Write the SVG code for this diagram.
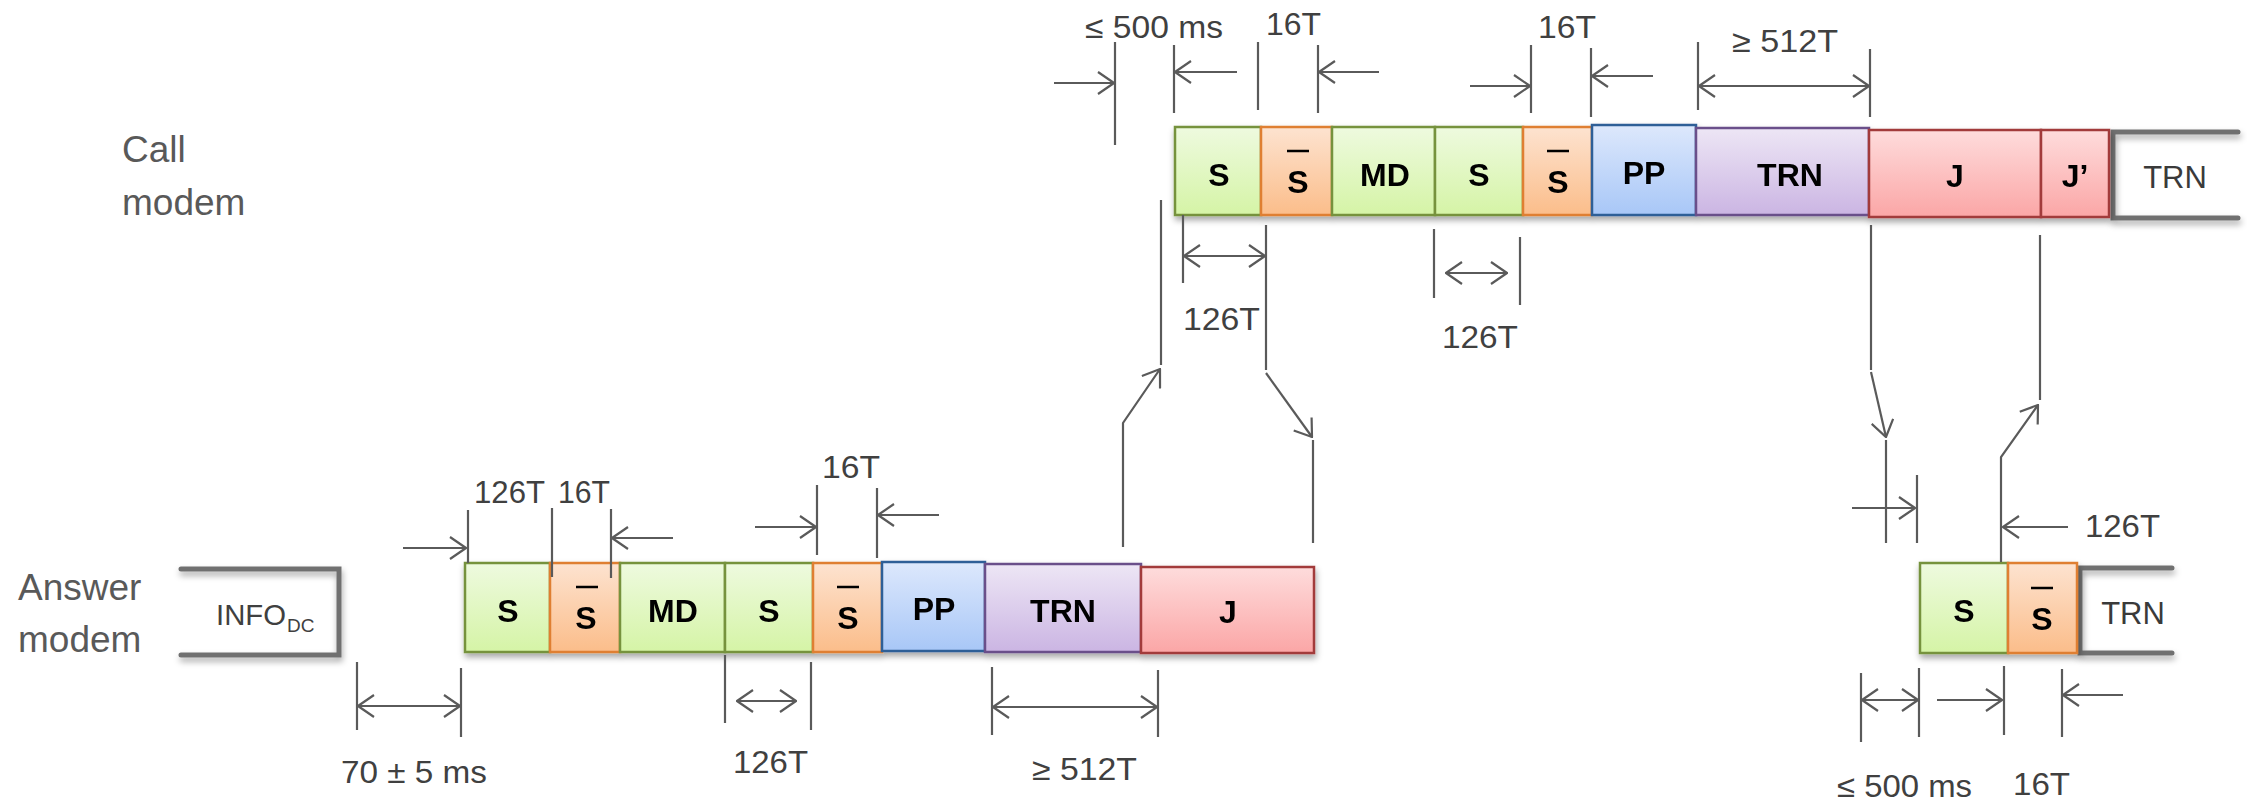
<svg xmlns="http://www.w3.org/2000/svg" width="2247" height="806" viewBox="0 0 2247 806">
<defs>
<linearGradient id="gG" x1="0" y1="0" x2="0" y2="1"><stop offset="0" stop-color="#eefadf"/><stop offset="1" stop-color="#d5f4a6"/></linearGradient>
<linearGradient id="gO" x1="0" y1="0" x2="0" y2="1"><stop offset="0" stop-color="#fde3d0"/><stop offset="1" stop-color="#fbbd8a"/></linearGradient>
<linearGradient id="gB" x1="0" y1="0" x2="0" y2="1"><stop offset="0" stop-color="#dde8fc"/><stop offset="1" stop-color="#a8c7f7"/></linearGradient>
<linearGradient id="gP" x1="0" y1="0" x2="0" y2="1"><stop offset="0" stop-color="#ede6f5"/><stop offset="1" stop-color="#cbb5e3"/></linearGradient>
<linearGradient id="gR" x1="0" y1="0" x2="0" y2="1"><stop offset="0" stop-color="#fedcdc"/><stop offset="1" stop-color="#fba6a6"/></linearGradient>
<filter id="sh" x="-20%" y="-20%" width="140%" height="160%"><feDropShadow dx="1" dy="4" stdDeviation="3" flood-color="#000" flood-opacity="0.35"/></filter>
<marker id="ah" viewBox="0 0 18 24" refX="17" refY="12" markerWidth="18" markerHeight="24" markerUnits="userSpaceOnUse" orient="auto-start-reverse"><path d="M1,1 L17,12 L1,23" fill="none" stroke="#5a5a5a" stroke-width="2.2"/></marker>
<style>
.g{fill:url(#gG);stroke:#76923c;stroke-width:2.5}
.o{fill:url(#gO);stroke:#df7f33;stroke-width:2.5}
.b{fill:url(#gB);stroke:#2f5f97;stroke-width:2.5}
.p{fill:url(#gP);stroke:#6a4f8a;stroke-width:2.5}
.r{fill:url(#gR);stroke:#a23b3b;stroke-width:2.5}
.lb{font-family:"Liberation Sans",Arial,sans-serif;font-weight:bold;font-size:32px;fill:#000;text-anchor:middle}
.bar{stroke:#000;stroke-width:2.5}
.ml{fill:none;stroke:#707070;stroke-width:5;stroke-linecap:round;filter:url(#sh)}
.md{font-family:"Liberation Sans",Arial,sans-serif;font-size:37px;fill:#595959}
.dt{font-family:"Liberation Sans",Arial,sans-serif;font-size:31px;fill:#404040}
.tr{font-family:"Liberation Sans",Arial,sans-serif;font-size:31px;fill:#3a3a3a;text-anchor:middle}
.d{fill:none;stroke:#5a5a5a;stroke-width:2.2}
.a{fill:none;stroke:#5a5a5a;stroke-width:2.2;marker-end:url(#ah)}
.aa{fill:none;stroke:#5a5a5a;stroke-width:2.2;marker-end:url(#ah);marker-start:url(#ah)}
</style>
</defs>
<rect width="2247" height="806" fill="#fff"/>

<g id="labels">
<text class="md" x="122" y="162">Call</text>
<text class="md" x="122" y="215">modem</text>
<text class="md" x="18" y="600">Answer</text>
<text class="md" x="18" y="652">modem</text>
</g>

<g id="modem-lines">
<path class="ml" d="M291,172 H1175"/>
<path class="ml" d="M344,615 H465"/>
<path class="ml" d="M1314,613 H1920"/>
<path class="ml" d="M2238,132 H2113 V218 H2238"/>
<path class="ml" d="M181,569 H339 V655 H181"/>
<path class="ml" d="M2172,568 H2080 V653 H2172"/>
</g>

<g id="call-blocks" filter="url(#sh)">
<g id="c-s1"><rect class="g" x="1175" y="127" width="86" height="88"/><text class="lb" x="1219" y="186">S</text></g>
<g id="c-sb1"><rect class="o" x="1261" y="127" width="71" height="88"/><line class="bar" x1="1287" y1="151" x2="1309" y2="151"/><text class="lb" x="1298" y="193">S</text></g>
<g id="c-md"><rect class="g" x="1332" y="127" width="103" height="88"/><text class="lb" x="1385" y="186">MD</text></g>
<g id="c-s2"><rect class="g" x="1435" y="127" width="88" height="88"/><text class="lb" x="1479" y="186">S</text></g>
<g id="c-sb2"><rect class="o" x="1523" y="127" width="69" height="88"/><line class="bar" x1="1547" y1="151" x2="1569" y2="151"/><text class="lb" x="1558" y="193">S</text></g>
<g id="c-pp"><rect class="b" x="1592" y="125" width="104" height="90"/><text class="lb" x="1644" y="184">PP</text></g>
<g id="c-trn"><rect class="p" x="1696" y="128" width="173" height="87"/><text class="lb" x="1790" y="186">TRN</text></g>
<g id="c-j"><rect class="r" x="1869" y="130" width="172" height="87"/><text class="lb" x="1955" y="187">J</text></g>
<g id="c-jp"><rect class="r" x="2041" y="130" width="68" height="87"/><text class="lb" x="2075" y="187">J’</text></g>
</g>
<g id="c-trn2"><text class="tr" x="2175" y="188">TRN</text></g>

<g id="answer-blocks" filter="url(#sh)">
<g id="a-s1"><rect class="g" x="465" y="563" width="85" height="89"/><text class="lb" x="508" y="622">S</text></g>
<g id="a-sb1"><rect class="o" x="550" y="563" width="70" height="89"/><line class="bar" x1="576" y1="587" x2="598" y2="587"/><text class="lb" x="586" y="629">S</text></g>
<g id="a-md"><rect class="g" x="620" y="563" width="105" height="89"/><text class="lb" x="673" y="622">MD</text></g>
<g id="a-s2"><rect class="g" x="725" y="563" width="88" height="89"/><text class="lb" x="769" y="622">S</text></g>
<g id="a-sb2"><rect class="o" x="813" y="563" width="69" height="89"/><line class="bar" x1="837" y1="587" x2="859" y2="587"/><text class="lb" x="848" y="629">S</text></g>
<g id="a-pp"><rect class="b" x="882" y="562" width="103" height="89"/><text class="lb" x="934" y="620">PP</text></g>
<g id="a-trn"><rect class="p" x="985" y="564" width="156" height="88"/><text class="lb" x="1063" y="622">TRN</text></g>
<g id="a-j"><rect class="r" x="1141" y="567" width="173" height="86"/><text class="lb" x="1228" y="623">J</text></g>
<g id="a-s3"><rect class="g" x="1920" y="563" width="88" height="90"/><text class="lb" x="1964" y="622">S</text></g>
<g id="a-sb3"><rect class="o" x="2008" y="563" width="69" height="90"/><line class="bar" x1="2031" y1="588" x2="2053" y2="588"/><text class="lb" x="2042" y="630">S</text></g>
</g>
<g id="a-info"><text class="dt" x="216" y="625" textLength="70" lengthAdjust="spacingAndGlyphs" style="font-size:30px">INFO</text><text class="dt" x="287" y="632" style="font-size:19px">DC</text></g>
<g id="a-trn2"><text class="tr" x="2133" y="624">TRN</text></g>

<g id="connectors">
<!-- call top dims -->
<path class="d" d="M1115,42 V145 M1174,45 V113 M1258,42 V110 M1318,45 V113 M1531,45 V113 M1591,48 V117 M1698,42 V110 M1870,49 V117"/>
<path class="a" d="M1054,83 H1114"/>
<path class="a" d="M1237,72 H1175"/>
<path class="a" d="M1379,72 H1319"/>
<path class="a" d="M1470,86 H1530"/>
<path class="a" d="M1653,76 H1592"/>
<path class="aa" d="M1699,86 H1869"/>
<!-- call bottom dims -->
<path class="d" d="M1183,215 V283 M1434,229 V298 M1520,237 V305"/>
<path class="aa" d="M1184,256 H1265"/>
<path class="aa" d="M1446,273 H1507"/>
<!-- exchange connectors -->
<path class="a" d="M1123,547 V423 L1160,369"/>
<path class="d" d="M1161,365 V200"/>
<path class="d" d="M1266,225 V370"/>
<path class="a" d="M1266,373 L1312,437"/>
<path class="d" d="M1313,440 V543"/>
<path class="d" d="M1871,225 V370"/>
<path class="a" d="M1871,372 L1886,437"/>
<path class="d" d="M1886,440 V543"/>
<path class="a" d="M2001,562 V457 L2038,405"/>
<path class="d" d="M2040,400 V235"/>
<!-- answer top dims -->
<path class="d" d="M468,510 V563 M552,508 V577 M611,509 V578 M817,485 V555 M877,488 V558 M1917,475 V543"/>
<path class="a" d="M403,548 H466"/>
<path class="a" d="M673,538 H612"/>
<path class="a" d="M755,527 H816"/>
<path class="a" d="M939,515 H878"/>
<path class="a" d="M1852,508 H1915"/>
<path class="a" d="M2068,527 H2003"/>
<!-- answer bottom dims -->
<path class="d" d="M357,662 V730 M461,668 V737 M725,655 V723 M811,662 V730 M992,667 V735 M1158,670 V737 M1861,673 V742 M1919,668 V737 M2004,666 V735 M2062,669 V737"/>
<path class="aa" d="M358,706 H460"/>
<path class="aa" d="M737,701 H796"/>
<path class="aa" d="M993,707 H1157"/>
<path class="aa" d="M1862,700 H1918"/>
<path class="a" d="M1937,700 H2002"/>
<path class="a" d="M2123,695 H2063"/>
</g>

<g id="dim-labels">
<text class="dt" x="1085" y="38" textLength="138" lengthAdjust="spacingAndGlyphs">≤ 500 ms</text>
<text class="dt" x="1266" y="35" textLength="55" lengthAdjust="spacingAndGlyphs">16T</text>
<text class="dt" x="1538" y="38" textLength="58" lengthAdjust="spacingAndGlyphs">16T</text>
<text class="dt" x="1732" y="52" textLength="106" lengthAdjust="spacingAndGlyphs">≥ 512T</text>
<text class="dt" x="1183" y="330" textLength="77" lengthAdjust="spacingAndGlyphs">126T</text>
<text class="dt" x="1442" y="348" textLength="76" lengthAdjust="spacingAndGlyphs">126T</text>
<text class="dt" x="474" y="503" textLength="71" lengthAdjust="spacingAndGlyphs">126T</text>
<text class="dt" x="558" y="503" textLength="52" lengthAdjust="spacingAndGlyphs">16T</text>
<text class="dt" x="822" y="478" textLength="58" lengthAdjust="spacingAndGlyphs">16T</text>
<text class="dt" x="341" y="783" textLength="146" lengthAdjust="spacingAndGlyphs">70 ± 5 ms</text>
<text class="dt" x="733" y="773" textLength="75" lengthAdjust="spacingAndGlyphs">126T</text>
<text class="dt" x="1032" y="780" textLength="105" lengthAdjust="spacingAndGlyphs">≥ 512T</text>
<text class="dt" x="2085" y="537" textLength="75" lengthAdjust="spacingAndGlyphs">126T</text>
<text class="dt" x="1837" y="797" textLength="135" lengthAdjust="spacingAndGlyphs">≤ 500 ms</text>
<text class="dt" x="2013" y="795" textLength="57" lengthAdjust="spacingAndGlyphs">16T</text>
</g>
</svg>
